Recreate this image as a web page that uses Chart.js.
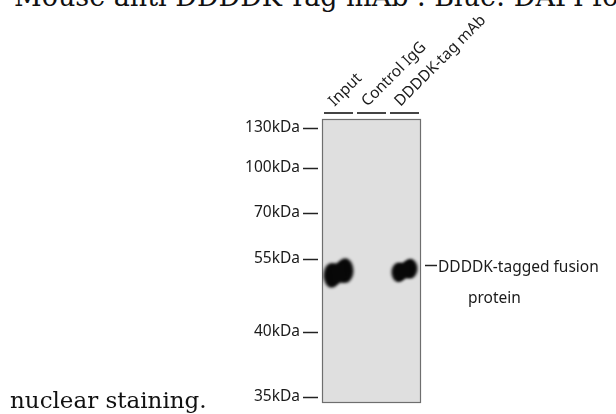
<!DOCTYPE html>
<html>
<head>
<meta charset="utf-8">
<script src="https://cdn.jsdelivr.net/npm/chart.js@4.4.1/dist/chart.umd.min.js"></script>
<style>
  html, body { margin: 0; padding: 0; background: #fff; }
  #wrap { position: relative; width: 616px; height: 414px; overflow: hidden; }
  #blot { position: absolute; left: 0; top: 0; }
  .serif { position: absolute; font-family: "DejaVu Serif", serif; color: #111; white-space: nowrap; }
  #topline { left: 14px; top: -17px; font-size: 27px; line-height: 28px; }
  #bottomline { left: 10px; top: 388px; font-size: 23px; line-height: 24px; }
</style>
</head>
<body>
<div id="wrap">
  <div class="serif" id="topline">Mouse anti DDDDK-Tag mAb . Blue: DAPI for</div>
  <canvas id="blot" width="616" height="414"></canvas>
  <div class="serif" id="bottomline">nuclear staining.</div>
</div>
<script>
// lanes of the blot
var lanes = ['Input', 'Control IgG', 'DDDDK-tag mAb'];

// molecular weight marker: label and migration distance (mm from top of gel)
var markerLabels = ['130kDa', '100kDa', '70kDa', '55kDa', '40kDa', '35kDa'];
var markerMigration = [0.9, 4.9, 9.4, 14.0, 21.3, 27.8];

// detected bands: lane index, migration (mm) and relative signal
var bandLane = [0, 2];
var bandMigration = [15.4, 15.15];
var bandAmount = [1.0, 0.6];
var bandLabel = ['DDDDK-tagged fusion', 'protein'];

var sans = '"Noto Sans", sans-serif';

// build a blurred blob image for a band, bigger with more signal
var bandCache = {};
function bandImage(amount) {
    if (bandCache[amount]) return bandCache[amount];
    var w = Math.round(21 + 9 * amount);
    var h = Math.round(14 + 15 * amount);
    var p = 4;
    var c = document.createElement('canvas');
    c.width = w + 2 * p;
    c.height = h + 2 * p;
    var g = c.getContext('2d');
    g.filter = 'blur(1.4px)';
    g.fillStyle = '#080808';
    g.beginPath();
    g.ellipse(p + w * 0.27, p + h * 0.58, w * 0.27, h * 0.42, 0, 0, Math.PI * 2);
    g.fill();
    g.beginPath();
    g.ellipse(p + w * 0.72, p + h * 0.42, w * 0.28, h * 0.42, 0, 0, Math.PI * 2);
    g.fill();
    g.beginPath();
    g.moveTo(p + w * 0.2, p + h * 0.25);
    g.lineTo(p + w * 0.78, p + h * 0.04);
    g.lineTo(p + w * 0.8, p + h * 0.75);
    g.lineTo(p + w * 0.22, p + h * 0.96);
    g.closePath();
    g.fill();
    bandCache[amount] = c;
    return c;
}

// gel box, lane bars, lane names, marker dashes and band annotation
var blotDecor = {
    id: 'blotDecor',
    beforeDatasetsDraw: function (chart) {
        var ctx = chart.ctx, a = chart.chartArea;
        ctx.save();
        ctx.fillStyle = '#dfdfdf';
        ctx.fillRect(a.left, a.top, a.right - a.left, a.bottom - a.top);
        ctx.strokeStyle = '#6e6e6e';
        ctx.lineWidth = 1.2;
        ctx.strokeRect(a.left + 0.5, a.top + 0.5, a.right - a.left - 1, a.bottom - a.top - 1);
        ctx.restore();
    },
    afterDraw: function (chart) {
        var ctx = chart.ctx, a = chart.chartArea;
        var xs = chart.scales.x, ys = chart.scales.y;
        ctx.save();
        // marker dashes
        ctx.strokeStyle = '#222';
        ctx.lineWidth = 1.5;
        markerMigration.forEach(function (m) {
            var y = Math.round(ys.getPixelForValue(m)) + 0.5;
            ctx.beginPath();
            ctx.moveTo(a.left - 19, y);
            ctx.lineTo(a.left - 4, y);
            ctx.stroke();
        });
        // lane bars and rotated lane names
        lanes.forEach(function (name, i) {
            var cx = xs.getPixelForValue(i);
            ctx.strokeStyle = '#444';
            ctx.lineWidth = 2;
            ctx.beginPath();
            ctx.moveTo(cx - 14.5, a.top - 6);
            ctx.lineTo(cx + 14.5, a.top - 6);
            ctx.stroke();
            ctx.save();
            ctx.translate(cx - 4, a.top - 12);
            ctx.rotate(-Math.PI / 4);
            ctx.font = '15.5px ' + sans;
            ctx.fillStyle = '#1a1a1a';
            ctx.textAlign = 'left';
            ctx.textBaseline = 'alphabetic';
            ctx.fillText(name, 0, 0);
            ctx.restore();
        });
        // band annotation to the right
        var by = ys.getPixelForValue(bandMigration[1]) - 5;
        ctx.strokeStyle = '#222';
        ctx.lineWidth = 1.5;
        ctx.beginPath();
        ctx.moveTo(a.right + 4, by);
        ctx.lineTo(a.right + 16, by);
        ctx.stroke();
        ctx.font = '15.5px ' + sans;
        ctx.fillStyle = '#1a1a1a';
        ctx.textBaseline = 'middle';
        ctx.fillText(bandLabel[0], a.right + 17, by + 2);
        ctx.fillText(bandLabel[1], a.right + 47, by + 33);
        ctx.restore();
    }
};

var ctx = document.getElementById('blot').getContext('2d');
var blotChart = new Chart(ctx, {
    type: 'scatter',
    data: {
        datasets: [{
            label: 'bands',
            data: bandLane.map(function (l, i) { return { x: l, y: bandMigration[i] }; }),
            pointStyle: function (c) { return bandImage(bandAmount[c.dataIndex]); }
        }]
    },
    options: {
        responsive: false,
        animation: false,
        layout: { padding: { left: 0, top: 119, right: 195, bottom: 11 } },
        plugins: { legend: { display: false }, tooltip: { enabled: false } },
        scales: {
            x: { type: 'linear', min: -0.5, max: 2.5, display: false },
            y: {
                type: 'linear',
                reverse: true,
                min: 0,
                max: 28.4,
                afterFit: function (s) {
                    s.width = 322;
                    s.paddingTop = 0;
                    s.paddingBottom = 0;
                },
                afterBuildTicks: function (s) {
                    s.ticks = markerMigration.map(function (m) { return { value: m }; });
                },
                ticks: {
                    padding: 22,
                    color: '#1a1a1a',
                    font: { family: sans, size: 15.5 },
                    callback: function (v, i) { return markerLabels[i]; }
                },
                grid: { display: false, drawTicks: false },
                border: { display: false }
            }
        }
    },
    plugins: [blotDecor]
});
</script>
</body>
</html>
